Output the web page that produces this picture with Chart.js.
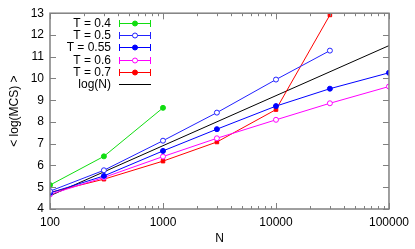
<!DOCTYPE html>
<html>
<head>
<meta charset="utf-8">
<script src="https://cdn.jsdelivr.net/npm/chart.js@4/dist/chart.umd.min.js"></script>
<style>
  body { margin: 0; background: #fff; }
  #wrap { width: 415px; height: 249px; }
</style>
</head>
<body>
<div id="wrap"><canvas id="mcsChart" width="415" height="249"></canvas></div>
<script>
/*** Data ***/
const nValues = [100, 300, 1000, 3000, 10000, 30000, 100000];
const t04 = [5.1, 6.42, 8.65];
const t05 = [4.82, 5.78, 7.14, 8.43, 9.95, 11.28];
const t055 = [4.74, 5.52, 6.67, 7.67, 8.73, 9.53, 10.26];
const t06 = [4.67, 5.45, 6.41, 7.25, 8.1, 8.86, 9.63];
const t07 = [4.76, 5.37, 6.2, 7.08, 8.57, 12.92];
const logNx = [100, 100000];
const logNy = [4.61, 11.51];
const xTicks = [100, 1000, 10000, 100000];
const seriesLabels = ['T = 0.4', 'T = 0.5', 'T = 0.55', 'T = 0.6', 'T = 0.7', 'log(N)'];

function points(xs, ys) {
    return ys.map(function (y, i) { return {x: xs[i], y: y}; });
}

Chart.defaults.font.family = "'Liberation Sans', Arial, sans-serif";
Chart.defaults.font.size = 12;
Chart.defaults.color = '#000';

/*** Frame, inward ticks and legend, gnuplot style ***/
const gnuplotFrame = {
    id: 'gnuplotFrame',
    afterDraw(chart) {
        const ctx = chart.ctx;
        const a = chart.chartArea;
        const xs = chart.scales.x;
        const ys = chart.scales.y;
        ctx.save();
        ctx.strokeStyle = '#808080';
        ctx.lineWidth = 1.5;
        ctx.strokeRect(a.left, a.top, a.right - a.left, a.bottom - a.top);

        ctx.lineWidth = 1;
        ctx.beginPath();
        // x ticks, major at decades, minor 2..9
        for (let d = 100; d < 100000; d *= 10) {
            for (let m = 1; m <= 10; m++) {
                const px = Math.round(xs.getPixelForValue(d * m)) + 0.5;
                const len = (m === 1 || m === 10) ? 6 : 3;
                ctx.moveTo(px, a.bottom); ctx.lineTo(px, a.bottom - len);
                ctx.moveTo(px, a.top); ctx.lineTo(px, a.top + len);
            }
        }
        // y ticks
        ys.ticks.forEach(function (t) {
            const py = Math.round(ys.getPixelForValue(t.value)) + 0.5;
            ctx.moveTo(a.left, py); ctx.lineTo(a.left + 6, py);
            ctx.moveTo(a.right, py); ctx.lineTo(a.right - 6, py);
        });
        ctx.stroke();

        // legend
        ctx.font = "12px 'Liberation Sans', Arial, sans-serif";
        ctx.textAlign = 'right';
        ctx.textBaseline = 'middle';
        chart.data.datasets.forEach(function (ds, i) {
            const y = Math.round(23 + i * 12.2) + 0.5;
            ctx.fillStyle = '#000';
            ctx.fillText(ds.label, 111, y);
            ctx.strokeStyle = ds.borderColor;
            ctx.lineWidth = 1;
            ctx.beginPath();
            ctx.moveTo(119, y); ctx.lineTo(151, y);
            if (ds.pointRadius > 0) {
                ctx.moveTo(119.5, y - 3.5); ctx.lineTo(119.5, y + 3.5);
                ctx.moveTo(150.5, y - 3.5); ctx.lineTo(150.5, y + 3.5);
            }
            ctx.stroke();
            if (ds.pointRadius > 0) {
                ctx.beginPath();
                ctx.arc(135, y, 2.5, 0, Math.PI * 2);
                ctx.fillStyle = ds.pointBackgroundColor;
                ctx.fill();
                ctx.stroke();
            }
        });
        ctx.restore();
    }
};

function series(label, data, color, open, style) {
    return {
        label: label,
        data: data,
        showLine: true,
        borderColor: color,
        backgroundColor: color,
        borderWidth: 1,
        pointRadius: 2.5,
        pointStyle: style || 'circle',
        pointBorderWidth: 1,
        pointBackgroundColor: open ? '#fff' : color,
        pointBorderColor: color
    };
}

new Chart(document.getElementById('mcsChart'), {
    type: 'scatter',
    data: {
        datasets: [
            series(seriesLabels[0], points(nValues, t04), '#11dd11', false),
            series(seriesLabels[1], points(nValues, t05), '#2222ff', true),
            series(seriesLabels[2], points(nValues, t055), '#0000ff', false),
            series(seriesLabels[3], points(nValues, t06), '#ff00ff', true),
            series(seriesLabels[4], points(nValues, t07), '#ff0000', false, 'rect'),
            {
                label: seriesLabels[5],
                data: points(logNx, logNy),
                showLine: true,
                borderColor: '#000',
                borderWidth: 1,
                pointRadius: 0
            }
        ]
    },
    options: {
        responsive: false,
        animation: false,
        devicePixelRatio: 1,
        layout: {
            padding: {top: 13, right: 21, bottom: 0, left: 0}
        },
        plugins: {
            legend: {display: false},
            tooltip: {enabled: false}
        },
        scales: {
            x: {
                type: 'logarithmic',
                min: 100,
                max: 100000,
                afterBuildTicks: function (scale) {
                    scale.ticks = xTicks.map(function (v) { return {value: v}; });
                },
                afterFit: function (scale) { scale.height = 40; },
                grid: {display: false, drawTicks: false},
                border: {display: false},
                ticks: {
                    autoSkip: false,
                    maxRotation: 0,
                    padding: 6,
                    callback: function (value) { return String(value); }
                },
                title: {
                    display: true,
                    text: 'N',
                    padding: {top: 0, bottom: 3}
                }
            },
            y: {
                type: 'linear',
                min: 4,
                max: 13,
                afterFit: function (scale) { scale.width = 50; },
                grid: {display: false, drawTicks: false},
                border: {display: false},
                ticks: {
                    stepSize: 1,
                    padding: 6
                },
                title: {
                    display: true,
                    text: '< log(MCS) >',
                    padding: {top: 7, bottom: 0}
                }
            }
        }
    },
    plugins: [gnuplotFrame]
});
</script>
</body>
</html>
